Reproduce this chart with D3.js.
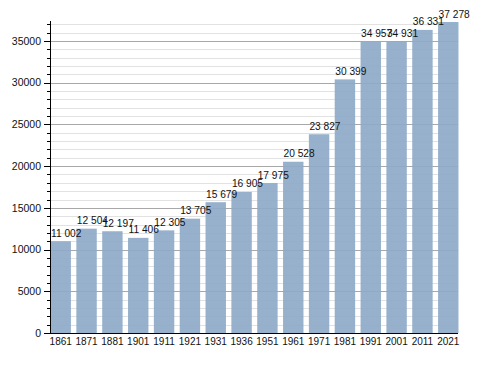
<!DOCTYPE html>
<html>
<head>
<meta charset="utf-8">
<script src="https://cdn.jsdelivr.net/npm/d3@7"></script>
<style>
  body { margin: 0; background: #fff; }
  text { font-family: "Liberation Sans", Arial, sans-serif; fill: #111; }
</style>
</head>
<body>
<svg id="chart" width="488" height="373"></svg>
<script>
// census years and population
const years = ["1861", "1871", "1881", "1901", "1911", "1921", "1931", "1936",
               "1951", "1961", "1971", "1981", "1991", "2001", "2011", "2021"];
const population = [11002, 12504, 12197, 11406, 12305, 13705, 15679, 16905,
                    17975, 20528, 23827, 30399, 34957, 34931, 36331, 37278];
const majorTicks = [0, 5000, 10000, 15000, 20000, 25000, 30000, 35000];

const svg = d3.select("#chart");
const plotLeft = 50, plotRight = 459, plotTop = 21, plotBottom = 333;

const x = d3.scaleBand().domain(years).range([plotLeft, plotRight]).paddingInner(0.21).paddingOuter(0.02);
const y = d3.scaleLinear().domain([0, 37400]).range([plotBottom, plotTop]);

const minorTicks = d3.range(0, 37001, 1000).filter(v => v % 5000 !== 0);

// grid
svg.append("g").selectAll("line").data(minorTicks).join("line")
    .attr("x1", plotLeft).attr("x2", plotRight - 1)
    .attr("y1", d => Math.round(y(d)) + 0.5).attr("y2", d => Math.round(y(d)) + 0.5)
    .attr("stroke", "#e2e2e2");
svg.append("g").selectAll("line").data(majorTicks.slice(1)).join("line")
    .attr("x1", plotLeft).attr("x2", plotRight - 1)
    .attr("y1", d => Math.round(y(d)) + 0.5).attr("y2", d => Math.round(y(d)) + 0.5)
    .attr("stroke", "#a8a8a8");

// bars
svg.append("g").selectAll("rect").data(years).join("rect")
    .attr("x", d => x(d))
    .attr("width", x.bandwidth())
    .attr("y", (d, i) => y(population[i]))
    .attr("height", (d, i) => plotBottom - y(population[i]))
    .attr("fill", "#8eaac8")
    .attr("fill-opacity", 0.92);

// value labels
const fmt = v => d3.format(",")(v).replace(",", " ");
svg.append("g").selectAll("text").data(years).join("text")
    .attr("x", d => x(d) + 0.5)
    .attr("y", (d, i) => y(population[i]) - 4.5)
    .attr("font-size", "10.2px")
    .text((d, i) => fmt(population[i]));

// y axis
const yAxis = svg.append("g").attr("transform", `translate(${plotLeft},0)`);
yAxis.append("line").attr("x1", 0.5).attr("x2", 0.5).attr("y1", plotTop).attr("y2", plotBottom)
    .attr("stroke", "#000");
yAxis.selectAll("line.minor").data(minorTicks).join("line").attr("class", "minor")
    .attr("x1", -3).attr("x2", 1)
    .attr("y1", d => Math.round(y(d)) + 0.5).attr("y2", d => Math.round(y(d)) + 0.5)
    .attr("stroke", "#000");
yAxis.selectAll("line.major").data(majorTicks).join("line").attr("class", "major")
    .attr("x1", -6).attr("x2", 1)
    .attr("y1", d => Math.round(y(d)) + 0.5).attr("y2", d => Math.round(y(d)) + 0.5)
    .attr("stroke", "#000");
yAxis.selectAll("text").data(majorTicks).join("text")
    .attr("x", -9).attr("y", d => y(d)).attr("dy", "0.35em")
    .attr("text-anchor", "end")
    .attr("font-size", "10.5px")
    .text(d => d);

// x axis
svg.append("line").attr("x1", plotLeft).attr("x2", plotRight - 1)
    .attr("y1", plotBottom + 0.5).attr("y2", plotBottom + 0.5).attr("stroke", "#000");
svg.append("g").selectAll("text").data(years).join("text")
    .attr("x", d => x(d) + x.bandwidth() / 2)
    .attr("y", plotBottom + 12)
    .attr("text-anchor", "middle")
    .attr("font-size", "10px")
    .text(d => d);
</script>
</body>
</html>
